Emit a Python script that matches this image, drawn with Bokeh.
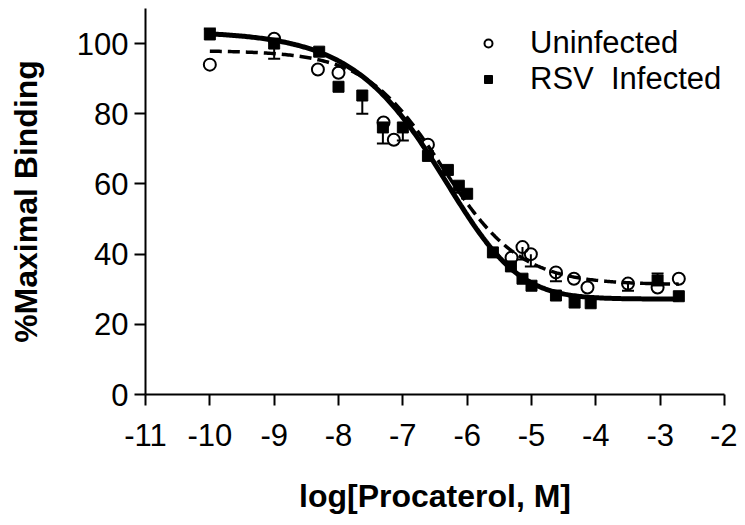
import numpy as np
from bokeh.plotting import figure
from bokeh.models import (ColumnDataSource, Whisker, TeeHead, Legend, LegendItem,
                          FixedTicker, Range1d)
from bokeh.embed import file_html
from bokeh.resources import INLINE

# ---------------- data ----------------
# Uninfected (open circles)
unf_x = [-10.0, -9.0, -8.32, -8.0, -7.3, -7.14, -6.61, -5.31, -5.14, -5.01,
         -4.62, -4.34, -4.13, -3.5, -3.04, -2.71]
unf_y = [94.0, 101.4, 92.6, 91.7, 77.5, 72.6, 71.2, 39.0, 42.0, 40.0,
         34.8, 33.0, 30.5, 31.6, 30.5, 33.0]
unf_err_minus = [0, 5.7, 0, 0, 0, 0, 0, 0, 3.5, 3.5, 2.5, 0, 0, 2.0, 0, 0]
unf_err_plus = [0] * 16

# RSV Infected (filled squares)
rsv_x = [-10.0, -9.0, -8.3, -8.0, -7.63, -7.31, -7.0, -6.61, -6.3, -6.13,
         -6.0, -5.6, -5.32, -5.14, -5.0, -4.62, -4.33, -4.08, -3.04, -2.71]
rsv_y = [102.6, 100.0, 97.7, 87.7, 85.2, 76.1, 76.1, 68.0, 64.0, 59.5,
         57.2, 40.5, 36.5, 33.0, 31.0, 28.2, 26.2, 26.0, 32.5, 28.0]
rsv_err_minus = [0, 0, 0, 0, 5.2, 4.6, 3.7, 0, 0, 2.0,
                 0, 0, 0, 0, 0, 0, 0, 0, 0, 0]
rsv_err_plus = [1.7, 0, 0, 0, 0, 0, 0, 0, 0, 0,
                0, 0, 0, 0, 0, 0, 0, 0, 2.0, 0]

# fitted sigmoid parameters (logistic: top, bottom, logEC50, hill, asymmetry)
unf_fit = dict(top=98.0, bottom=31.3, logec50=-6.38, hill=0.72, asym=1.0)
rsv_fit = dict(top=103.5, bottom=27.2, logec50=-5.58, hill=0.545, asym=2.5)
fit_x_range = (-10.0, -2.71)

x_ticks = [-11, -10, -9, -8, -7, -6, -5, -4, -3, -2]
x_tick_labels = ["-11", "-10", "-9", "-8", "-7", "-6", "-5", "-4", "-3", "-2"]
y_ticks = [0, 20, 40, 60, 80, 100]
legend_labels = ["Uninfected", "RSV\u00a0 Infected"]
x_title = "log[Procaterol, M]"
y_title = "%Maximal Binding"


def logistic(x, top, bottom, logec50, hill, asym):
    return bottom + (top - bottom) / (1.0 + 10 ** ((x - logec50) * hill)) ** asym


FONT = "'Liberation Sans', Arial, sans-serif"

p = figure(width=737, height=517, output_backend="svg", toolbar_location=None,
           x_range=Range1d(-11, -2), y_range=Range1d(0, 110),
           min_border_left=145, min_border_right=13, min_border_top=8,
           min_border_bottom=123)
p.outline_line_color = None
p.grid.visible = False
p.background_fill_color = "white"

xs = np.linspace(fit_x_range[0], fit_x_range[1], 300)
p.line(xs, logistic(xs, **rsv_fit), line_color="black", line_width=5)
p.line(xs, logistic(xs, **unf_fit), line_color="black", line_width=3.5,
       line_dash="12 6")

circ = p.scatter(unf_x, unf_y, marker="circle", size=12, line_color="black",
                 line_width=2, fill_color=None)
sq = p.scatter(rsv_x, rsv_y, marker="square", size=11, line_color="black",
               fill_color="black")


def add_bars(xv, yv, em, ep):
    down = [(x, y - m, y) for x, y, m in zip(xv, yv, em) if m > 0]
    up = [(x, y, y + q) for x, y, q in zip(xv, yv, ep) if q > 0]
    if down:
        src = ColumnDataSource(dict(base=[d[0] for d in down], lower=[d[1] for d in down],
                                    upper=[d[2] for d in down]))
        p.add_layout(Whisker(source=src, base="base", lower="lower", upper="upper",
                             line_width=2, upper_head=None,
                             lower_head=TeeHead(size=12, line_width=2), level="glyph"))
    if up:
        src = ColumnDataSource(dict(base=[d[0] for d in up], lower=[d[1] for d in up],
                                    upper=[d[2] for d in up]))
        p.add_layout(Whisker(source=src, base="base", lower="lower", upper="upper",
                             line_width=2, lower_head=None,
                             upper_head=TeeHead(size=12, line_width=2), level="glyph"))


add_bars(unf_x, unf_y, unf_err_minus, unf_err_plus)
add_bars(rsv_x, rsv_y, rsv_err_minus, rsv_err_plus)

# axes
for ax in (p.xaxis[0], p.yaxis[0]):
    ax.axis_line_width = 2
    ax.major_tick_line_width = 2
    ax.major_tick_out = 11
    ax.major_tick_in = 0
    ax.minor_tick_line_color = None
    ax.major_label_text_font = FONT
    ax.major_label_text_font_size = "31px"
    ax.major_label_text_color = "black"
    ax.axis_label_text_font = FONT
    ax.axis_label_text_font_style = "bold"
    ax.axis_label_text_font_size = "32px"
    ax.axis_label_text_color = "black"

p.xaxis.ticker = FixedTicker(ticks=x_ticks)
p.xaxis.major_label_overrides = {t: s for t, s in zip(x_ticks, x_tick_labels)}
p.yaxis.ticker = FixedTicker(ticks=y_ticks)
p.xaxis.axis_label = x_title
p.yaxis.axis_label = y_title
p.xaxis.major_label_standoff = 18
p.yaxis.major_label_standoff = 6
p.xaxis.axis_label_standoff = 29
p.yaxis.axis_label_standoff = 30

legend = Legend(items=[LegendItem(label=legend_labels[0], renderers=[circ]),
                       LegendItem(label=legend_labels[1], renderers=[sq])],
                location=(333, 297), padding=0, margin=0, spacing=-7,
                glyph_width=20, glyph_height=30, label_height=30,
                label_standoff=32, border_line_color=None,
                background_fill_alpha=0)
legend.label_text_font = FONT
legend.label_text_font_size = "31px"
legend.label_text_color = "black"
p.add_layout(legend, "center")

open("out.html", "w").write(file_html(p, INLINE))
